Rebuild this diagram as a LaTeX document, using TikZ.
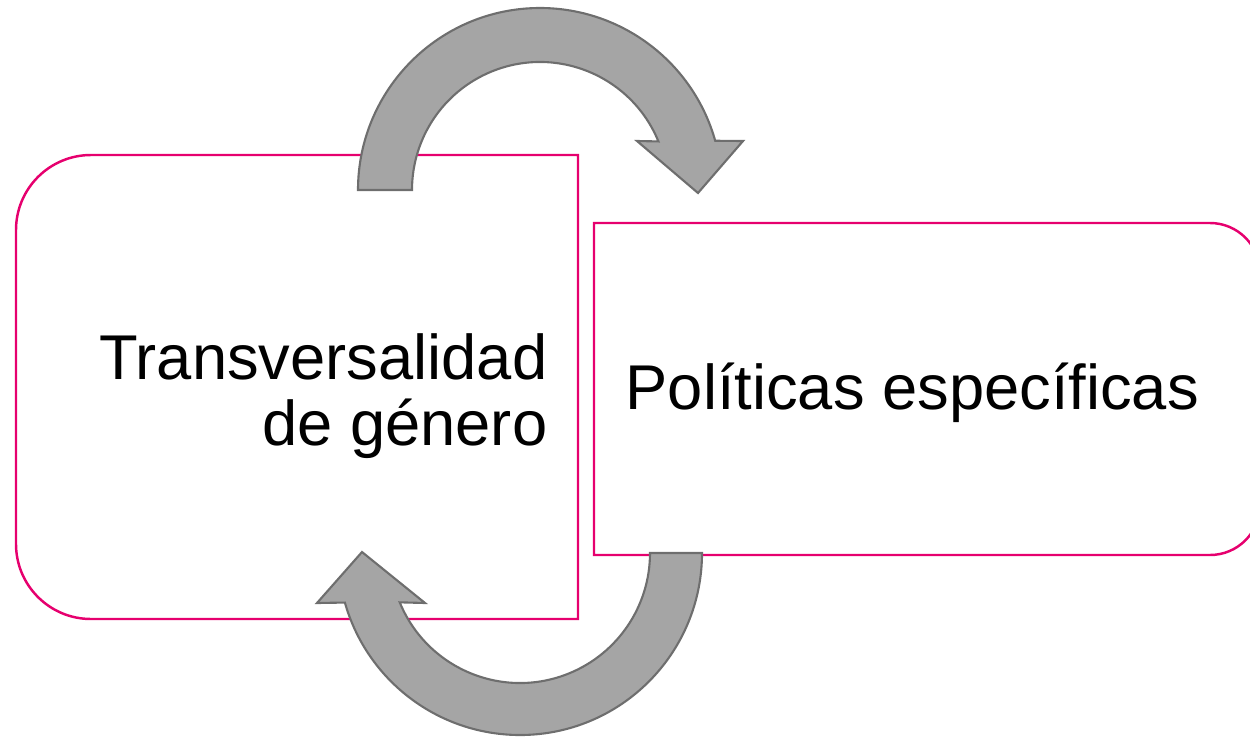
\documentclass[tikz,border=0pt]{standalone}
\usepackage{fontspec}
\setmainfont{Liberation Sans}
\definecolor{boxpink}{RGB}{230,0,110}
\definecolor{arrowgray}{RGB}{165,165,165}
\definecolor{arrowedge}{RGB}{110,110,110}
\tikzset{
  boxline/.style={draw=boxpink, line width=0.7pt},
  cyclearrow/.style={fill=arrowgray, draw=arrowedge, line width=0.6pt, line join=miter},
  boxtext/.style={font=\fontsize{18}{18.5}\selectfont, inner sep=0pt}
}
\begin{document}
\begin{tikzpicture}
\useasboundingbox (0,0) rectangle (12.5,7.38);

% Caja izquierda (esquinas redondeadas a la izquierda)
\draw[boxline] (5.78,5.83) -- (0.91,5.83) arc[start angle=90, end angle=180, radius=0.75]
  -- (0.16,1.94) arc[start angle=180, end angle=270, radius=0.75] -- (5.78,1.19) -- cycle;

% Caja derecha (esquinas redondeadas a la derecha)
\draw[boxline] (5.94,5.15) -- (12.10,5.15) arc[start angle=90, end angle=0, radius=0.5]
  -- (12.60,2.33) arc[start angle=0, end angle=-90, radius=0.5] -- (5.94,1.83) -- cycle;

% Textos
\node[boxtext, anchor=base east, align=right] (transv) at (5.48,2.93) {Transversalidad\\de género};
\node[boxtext, anchor=base west] (politicas) at (6.25,3.29) {Políticas específicas};

% Flecha circular superior
\coordinate (topc) at (5.40,5.48);
\draw[cyclearrow] ([shift={(topc)}]180:1.82) arc[start angle=180, end angle=15.7, radius=1.82]
  -- (7.43,5.97) -- (6.98,5.45) -- (6.37,5.97)
  -- ([shift={(topc)}]22.3:1.28) arc[start angle=22.3, end angle=180, radius=1.28] -- cycle;

% Flecha circular inferior
\coordinate (botc) at (5.20,1.85);
\draw[cyclearrow] ([shift={(botc)}]0:1.82) arc[start angle=0, end angle=-164.2, radius=1.82]
  -- (3.17,1.35) -- (3.62,1.86) -- (4.25,1.35)
  -- ([shift={(botc)}]-157.7:1.30) arc[start angle=-157.7, end angle=0, radius=1.30] -- cycle;

\end{tikzpicture}
\end{document}
